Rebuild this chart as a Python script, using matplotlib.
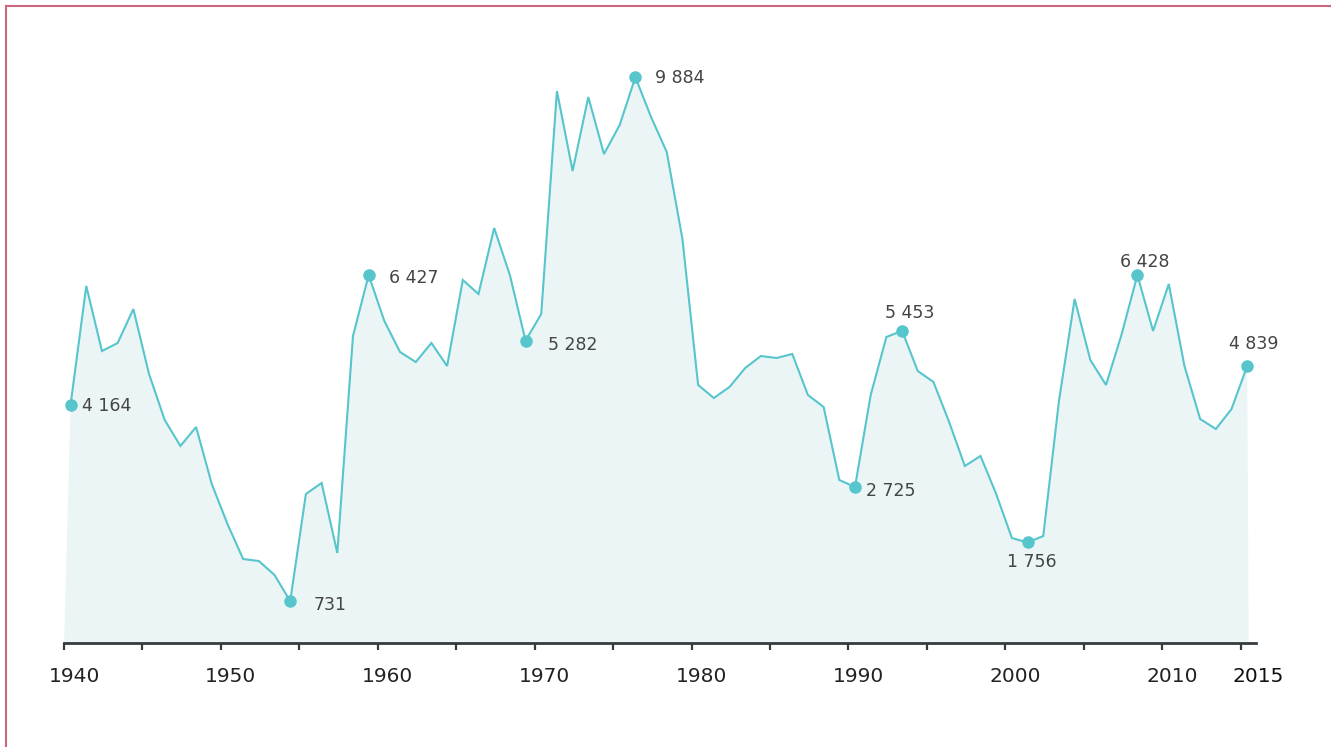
import matplotlib
matplotlib.use("Agg")
import matplotlib.pyplot as plt
import matplotlib.transforms as mtransforms
from matplotlib.lines import Line2D

plt.rcParams['font.family'] = ['DejaVu Sans']

# yearly values
years = list(range(1940, 2016))
values = [
    4164, 6236, 5100, 5240, 5834, 4699, 3895, 3441, 3773, 2777,  # 1940s
    2079, 1467, 1432, 1188, 731, 2603, 2795, 1572, 5362, 6427,   # 1950s
    5624, 5083, 4908, 5240, 4838, 6341, 6096, 7249, 6428, 5282,  # 1960s
    5747, 9642, 8245, 9537, 8541, 9048, 9884, 9188, 8576, 7057,  # 1970s
    4507, 4279, 4472, 4803, 5013, 4978, 5048, 4332, 4122, 2847,  # 1980s
    2725, 4332, 5345, 5453, 4751, 4559, 3860, 3092, 3266, 2603,  # 1990s
    1834, 1756, 1869, 4227, 6009, 4943, 4507, 5397, 6428, 5450,  # 2000s
    6271, 4838, 3913, 3738, 4087, 4839,                          # 2010s
]
assert len(years) == len(values)

labelled_years = [1940, 1954, 1959, 1969, 1976, 1990, 1993, 2001, 2008, 2015]
tick_labels = ['1940', '1950', '1960', '1970', '1980', '1990', '2000', '2010', '2015']
tick_years = [1940, 1950, 1960, 1970, 1980, 1990, 2000, 2010, 2015]
minor_years = [1945, 1955, 1965, 1975, 1985, 1995, 2005]

# label placement (pixel offsets from the point, alignment)
label_style = {
    1940: ((11, -1), 'left', 'center'),
    1954: ((23, -4), 'left', 'center'),
    1959: ((20, -3), 'left', 'center'),
    1969: ((22, -4), 'left', 'center'),
    1976: ((20, -1), 'left', 'center'),
    1990: ((11, -4), 'left', 'center'),
    1993: ((8, 18), 'center', 'center'),
    2001: ((4, -20), 'center', 'center'),
    2008: ((7, 13), 'center', 'center'),
    2015: ((7, 22), 'center', 'center'),
}

LINE = '#56c5cc'
FILL = '#ecf5f6'
AXIS = '#353b40'
TEXT = '#444444'
BORDER = '#c96a7a'

W, H = 1331, 747
fig = plt.figure(figsize=(W / 100, H / 100), dpi=100)
# axes placed in pixels: baseline at y=643, spine from x=64 to x=1256
ax = fig.add_axes([64 / W, (H - 643) / H, (1256 - 64) / W, (643 - 40) / H])

shift = 0.42  # points sit a little right of the year ticks
xs = [y + shift for y in years]

ax.fill([years[0]] + xs + [xs[-1] + 0.1], [0] + values + [0], color=FILL, lw=0, zorder=1)
ax.plot(xs, values, color=LINE, lw=1.5, zorder=2, solid_joinstyle='miter')

for yr in labelled_years:
    v = values[years.index(yr)]
    x = yr + shift
    ax.plot([x], [v], 'o', color=LINE, ms=8, zorder=3)
    (dx, dy), ha, va = label_style[yr]
    ax.annotate(f"{v:,}".replace(",", " "), (x, v), xytext=(dx, dy),
                textcoords='offset pixels', ha=ha, va=va,
                fontsize=12.5, color=TEXT, zorder=4)

ax.set_xlim(1940, 2015.98)
ax.set_ylim(0, 10533)

for s in ['top', 'right', 'left']:
    ax.spines[s].set_visible(False)
ax.spines['bottom'].set_color(AXIS)
ax.spines['bottom'].set_linewidth(2)
ax.set_yticks([])
ax.set_xticks(tick_years)
ax.set_xticklabels(tick_labels)
ax.set_xticks(minor_years, minor=True)
ax.tick_params(axis='x', which='both', direction='out', length=5, width=1.6,
               color=AXIS, pad=12, labelsize=14.5, labelcolor='#222222')
ax.set_facecolor('none')

# the year labels sit a bit right of their ticks
for tick, lbl in zip(ax.xaxis.get_major_ticks(), tick_labels):
    dx = 18 if lbl == '2015' else 10
    t = tick.label1
    t.set_transform(t.get_transform() + mtransforms.ScaledTranslation(dx / 100, 0, fig.dpi_scale_trans))
    if lbl == '2015':
        t.set_color('#111111')

# frame lines on the left and top of the picture
fig.add_artist(Line2D([5.5 / W, 5.5 / W], [0, 1 - 5.5 / H], color=BORDER, lw=1.5))
fig.add_artist(Line2D([5.5 / W, 1], [1 - 5.5 / H, 1 - 5.5 / H], color=BORDER, lw=1.5))

fig.savefig('out.png', dpi=100)
